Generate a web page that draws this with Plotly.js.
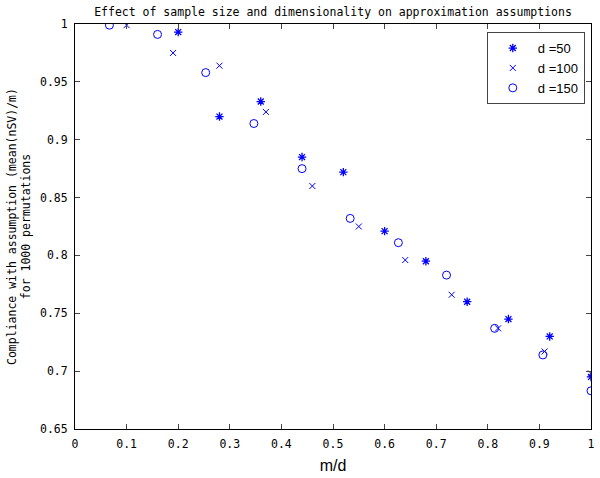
<!DOCTYPE html>
<html>
<head>
<meta charset="utf-8">
<script src="https://cdn.plot.ly/plotly-3.0.1.min.js"></script>
<style>html,body{margin:0;padding:0;background:#fff;}#chart{width:600px;height:478px;}</style>
</head>
<body>
<div id="chart"></div>
<script>
// m/d ratios and compliance values per dimensionality
const x50 = [0.2, 0.28, 0.36, 0.44, 0.52, 0.60, 0.68, 0.76, 0.84, 0.92, 1.0];
const y50 = [0.993, 0.920, 0.933, 0.885, 0.872, 0.821, 0.795, 0.760, 0.745, 0.730, 0.695];
const x100 = [0.10, 0.19, 0.28, 0.37, 0.46, 0.55, 0.64, 0.73, 0.82, 0.91, 1.0];
const y100 = [0.999, 0.975, 0.964, 0.924, 0.860, 0.825, 0.796, 0.766, 0.737, 0.717, 0.698];
const x150 = [0.0667, 0.16, 0.2533, 0.3467, 0.44, 0.5333, 0.6267, 0.72, 0.8133, 0.9067, 1.0];
const y150 = [0.999, 0.991, 0.958, 0.914, 0.875, 0.832, 0.811, 0.783, 0.737, 0.714, 0.683];
const names = ['d =50', 'd =100', 'd =150'];
const xTicks = [0, 0.1, 0.2, 0.3, 0.4, 0.5, 0.6, 0.7, 0.8, 0.9, 1];
const yTicks = [0.65, 0.7, 0.75, 0.8, 0.85, 0.9, 0.95, 1];

const blue = 'rgb(0,0,255)';
const traces = [
  {x: x50, y: y50, name: names[0], mode: 'markers', type: 'scatter',
   marker: {symbol: 'asterisk-open', size: 7, color: blue, line: {color: blue, width: 1.3}}},
  {x: x100, y: y100, name: names[1], mode: 'markers', type: 'scatter',
   marker: {symbol: 'x-thin-open', size: 6, color: blue, line: {color: blue, width: 1}}},
  {x: x150, y: y150, name: names[2], mode: 'markers', type: 'scatter',
   marker: {symbol: 'circle-open', size: 8, color: blue, line: {color: blue, width: 1}}}
];

const mono = 'DejaVu Sans Mono, monospace';
const layout = {
  width: 600, height: 478,
  margin: {l: 75, r: 9, t: 24, b: 49},
  paper_bgcolor: '#fff', plot_bgcolor: '#fff',
  title: {text: 'Effect of sample size and dimensionality on approximation assumptions',
          font: {family: mono, size: 11.5, color: '#000'}, xref: 'paper', x: 0.5, xanchor: 'center',
          yref: 'container', y: 0.975, yanchor: 'middle'},
  showlegend: true,
  legend: {x: 0.988, xanchor: 'right', y: 0.98, yanchor: 'top', bgcolor: '#fff',
           bordercolor: '#444', borderwidth: 1, font: {family: 'Liberation Sans, Arial', size: 13, color: '#000'},
           tracegroupgap: 0, itemwidth: 40},
  xaxis: {range: [0, 1], tickvals: xTicks, ticktext: xTicks.map(String), ticks: 'inside', ticklen: 5,
          mirror: 'ticks', showline: true, linecolor: '#000', linewidth: 1, showgrid: false, zeroline: false,
          ticklabelstandoff: 4,
          tickfont: {family: mono, size: 11.5, color: '#000'},
          title: {text: 'm/d', font: {family: 'Liberation Sans, Arial', size: 16, color: '#000'}, standoff: 10}},
  yaxis: {range: [0.65, 1], tickvals: yTicks, ticktext: yTicks.map(String), ticks: 'inside', ticklen: 5,
          mirror: 'ticks', showline: true, linecolor: '#000', linewidth: 1, showgrid: false, zeroline: false,
          ticklabelstandoff: 4,
          tickfont: {family: mono, size: 11.5, color: '#000'},
          title: {text: 'Compliance with assumption (mean(nSV)/m)<br>for 1000 permutations',
                  font: {family: mono, size: 11.5, color: '#000'}, standoff: 6}}
};
Plotly.newPlot('chart', traces, layout, {displayModeBar: false, staticPlot: true});
</script>
</body>
</html>
